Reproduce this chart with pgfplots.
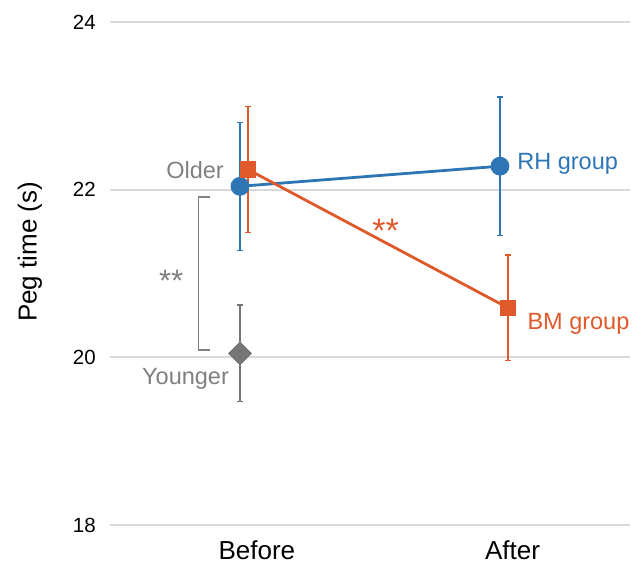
\documentclass[border=0pt]{standalone}
\usepackage{fontspec}
\setmainfont{Liberation Sans}
\usepackage{pgfplots}
\pgfplotsset{compat=1.18}
\definecolor{rhblue}{HTML}{2E75B6}
\definecolor{bmorange}{HTML}{E0592A}
\definecolor{ygray}{HTML}{767676}
\definecolor{txtgray}{HTML}{808080}
\definecolor{gridgray}{HTML}{D9D9D9}
\begin{document}
\begin{tikzpicture}
\begin{axis}[
  scale only axis,
  width=520bp, height=503bp,
  xmin=-0.5, xmax=1.5,
  ymin=18, ymax=24,
  ytick={18,20,22,24},
  xtick={0.065,1.048},
  xticklabels={Before,After},
  ymajorgrids=true,
  grid style={color=gridgray, line width=2bp},
  axis line style={draw=none},
  tick style={draw=none},
  major tick length=0pt,
  clip=false,
  /pgf/number format/assume math mode=true,
  yticklabel style={font=\fontsize{20.5bp}{24bp}\selectfont, anchor=east, inner sep=0pt, xshift=-14bp},
  xticklabel style={font=\fontsize{26bp}{30bp}\selectfont, anchor=center, inner sep=0pt, yshift=-25bp},
  ylabel={Peg time (s)},
  ylabel style={font=\fontsize{26bp}{30bp}\selectfont, at={(axis description cs:-0.1538,0.543)}, anchor=center, inner sep=0pt},
  error bars/error bar style={line width=1.4bp},
  error bars/error mark options={rotate=90, mark size=3bp, line width=1.2bp},
]
% RH group
\addplot[color=rhblue, line width=2.8bp, mark=*, mark size=8bp, mark options={fill=rhblue, draw=rhblue},
  error bars/.cd, y dir=both, y explicit]
  coordinates {
    (0,22.04) +- (0,0.765)
    (1,22.28) +- (0,0.825)
  };
% BM group
\addplot[color=bmorange, line width=2.8bp, mark=square*, mark size=7.8bp, mark options={fill=bmorange, draw=bmorange, line width=0pt},
  error bars/.cd, y dir=both, y explicit]
  coordinates {
    (0.031,22.24) +- (0,0.755)
    (1.031,20.59) +- (0,0.63)
  };
% Younger
\addplot[color=ygray, line width=2.8bp, mark=square*, mark size=8.1bp, mark options={fill=ygray, draw=ygray, line width=0pt, rotate=45},
  error bars/.cd, y dir=both, y explicit]
  coordinates {
    (0,20.05) +- (0,0.575)
  };
% annotations
\node[anchor=base east, text=txtgray, inner sep=0pt, font=\fontsize{23.5bp}{28bp}\selectfont] at (axis cs:-0.0615,22.13) {Older};
\node[anchor=base east, text=txtgray, inner sep=0pt, font=\fontsize{23.5bp}{28bp}\selectfont] at (axis cs:-0.042,19.68) {Younger};
\node[anchor=base west, text=rhblue, inner sep=0pt, font=\fontsize{23.5bp}{28bp}\selectfont] at (axis cs:1.066,22.24) {RH group};
\node[anchor=base west, text=bmorange, inner sep=0pt, font=\fontsize{23.5bp}{28bp}\selectfont] at (axis cs:1.105,20.327) {BM group};
\node[anchor=base, text=bmorange, inner sep=0pt, font=\fontsize{34bp}{38bp}\selectfont] at (axis cs:0.56,21.366) {**};
\node[anchor=base, text=txtgray, inner sep=0pt, font=\fontsize{31bp}{36bp}\selectfont] at (axis cs:-0.265,20.789) {**};
\draw[color=txtgray, line width=1.5bp] (axis cs:-0.115,21.91) -- (axis cs:-0.16,21.91) -- (axis cs:-0.16,20.09) -- (axis cs:-0.115,20.09);
\end{axis}
\pgfresetboundingbox
\path (current axis.south west) ++(-110bp,-39bp) coordinate (bbA);
\path (current axis.north east) ++(2bp,22bp) coordinate (bbB);
\path[use as bounding box] (bbA) rectangle (bbB);
\end{tikzpicture}
\end{document}
